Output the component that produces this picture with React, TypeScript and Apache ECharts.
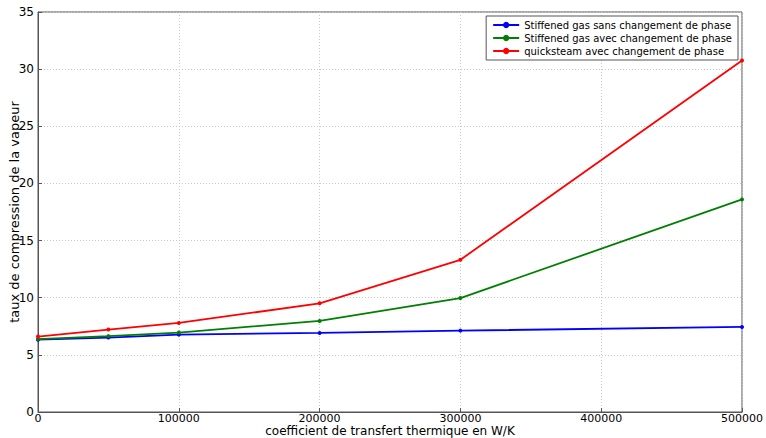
import React, { useEffect, useRef } from "react";
import * as echarts from "echarts";

const xValues = [0, 50000, 100000, 200000, 300000, 500000];
const blueValues = [6.33, 6.51, 6.77, 6.92, 7.12, 7.44];
const greenValues = [6.38, 6.64, 6.95, 7.97, 9.97, 18.6];
const redValues = [6.6, 7.21, 7.79, 9.51, 13.32, 30.75];
const seriesNames = [
  "Stiffened gas sans changement de phase",
  "Stiffened gas avec changement de phase",
  "quicksteam avec changement de phase",
];
const seriesColors = ["#0000ff", "#008000", "#ff0000"];

export default function App() {
  const ref = useRef<HTMLDivElement>(null);
  useEffect(() => {
    if (!ref.current) return;
    const chart = echarts.init(ref.current, null, { renderer: "svg" });
    const allValues = [blueValues, greenValues, redValues];
    const font = "DejaVu Sans";
    chart.setOption({
      animation: false,
      backgroundColor: "#ffffff",
      textStyle: { fontFamily: font },
      grid: {
        left: 38,
        right: 24,
        top: 12,
        bottom: 26,
        containLabel: false,
        outerBoundsMode: "none",
        show: true,
        borderColor: "#555555",
        borderWidth: 1,
        backgroundColor: "transparent",
      },
      legend: {
        orient: "vertical",
        right: 28,
        top: 16,
        itemWidth: 26,
        itemHeight: 8,
        itemGap: 3,
        padding: [4, 6, 4, 6],
        borderColor: "#555555",
        borderWidth: 1,
        backgroundColor: "#ffffff",
        textStyle: { fontFamily: font, fontSize: 10, color: "#000" },
        data: seriesNames,
      },
      xAxis: {
        type: "value",
        min: 0,
        max: 500000,
        interval: 100000,
        name: "coefficient de transfert thermique en W/K",
        nameLocation: "middle",
        nameGap: 13,
        nameMoveOverlap: false,
        nameTextStyle: {
          fontFamily: font,
          fontSize: 12,
          color: "#000",
          verticalAlign: "top",
          lineHeight: 12,
        },
        axisLine: { show: true, lineStyle: { color: "#555555" } },
        axisTick: { show: true, inside: true, length: 4, lineStyle: { color: "#555555" } },
        axisLabel: {
          fontFamily: font,
          fontSize: 11,
          color: "#000",
          margin: 1,
          lineHeight: 11,
          formatter: (v: number) => String(v),
        },
        splitLine: { show: true, lineStyle: { color: "#c8c8c8", type: [1, 2], width: 1 } },
      },
      yAxis: {
        type: "value",
        min: 0,
        max: 35,
        interval: 5,
        name: "taux de compression de la vapeur",
        nameLocation: "middle",
        nameGap: 17,
        nameMoveOverlap: false,
        nameTextStyle: { fontFamily: font, fontSize: 13, color: "#000" },
        axisLine: { show: true, lineStyle: { color: "#555555" } },
        axisTick: { show: true, inside: true, length: 4, lineStyle: { color: "#555555" } },
        axisLabel: { fontFamily: font, fontSize: 12, color: "#000", margin: 4 },
        splitLine: { show: true, lineStyle: { color: "#c8c8c8", type: [1, 2], width: 1 } },
      },
      series: seriesNames.map((name, i) => ({
        name,
        type: "line",
        data: xValues.map((x, j) => [x, allValues[i][j]]),
        symbol: "circle",
        symbolSize: 4,
        showSymbol: true,
        itemStyle: { color: seriesColors[i] },
        lineStyle: { color: seriesColors[i], width: 1.8 },
        z: 3 + i,
      })),
    });
    return () => chart.dispose();
  }, []);
  return (
    <div
      ref={ref}
      style={{ position: "absolute", left: 0, top: 0, width: 766, height: 438 }}
    />
  );
}
